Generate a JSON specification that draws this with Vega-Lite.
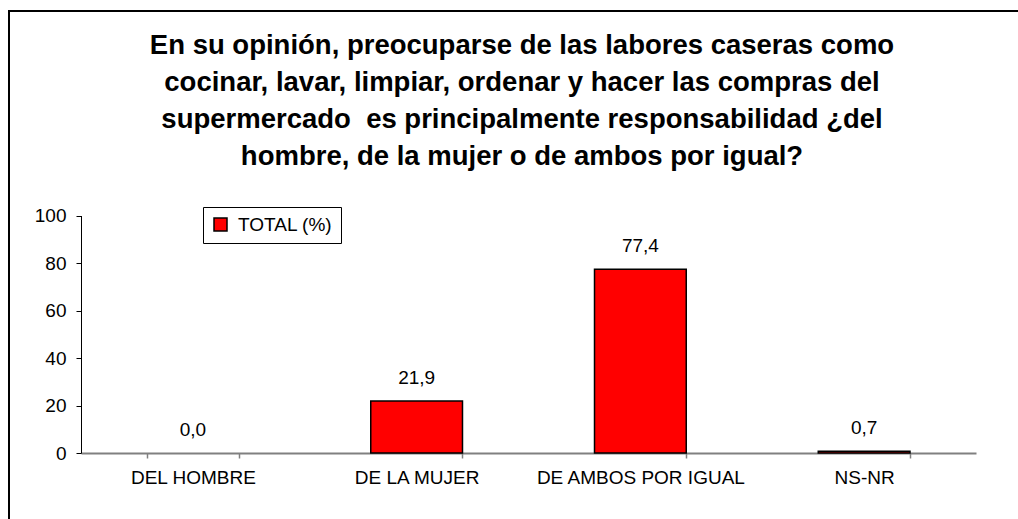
{
  "$schema": "https://vega.github.io/schema/vega-lite/v6.json",
  "autosize": {"type": "none"},
  "padding": {"left": 9, "top": 11, "right": 0, "bottom": 0},
  "width": 1020,
  "height": 520,
  "background": "white",
  "title": {
    "text": ["En su opinión, preocuparse de las labores caseras como", "cocinar, lavar, limpiar, ordenar y hacer las compras del", "supermercado \u00a0es principalmente responsabilidad ¿del", "hombre, de la mujer o de ambos por igual?"],
    "anchor": "middle",
    "frame": "group",
    "baseline": "top",
    "offset": -159,
    "dx": 3,
    "font": "Liberation Sans",
    "fontSize": 27.5,
    "fontWeight": "bold",
    "lineHeight": 37,
    "color": "black"
  },
  "data": {
    "values": [
      {"cat": "DEL HOMBRE", "value": 0.0, "serie": "TOTAL (%)"},
      {"cat": "DE LA MUJER", "value": 21.9, "serie": "TOTAL (%)"},
      {"cat": "DE AMBOS POR IGUAL", "value": 77.4, "serie": "TOTAL (%)"},
      {"cat": "NS-NR", "value": 0.7, "serie": "TOTAL (%)"}
    ]
  },
  "encoding": {
    "x": {
      "field": "cat", "type": "nominal", "sort": null, "title": null,
      "scale": {"range": [72, 967], "paddingInner": 0.59, "paddingOuter": 0.295},
      "axis": {
        "orient": "bottom", "offset": -78, "tickBand": "extent", "labelAngle": 0, "labelLimit": 400,
        "domainColor": "#808080", "domainWidth": 2, "tickColor": "#808080", "tickWidth": 1.5,
        "tickSize": 5, "labelFont": "Liberation Sans", "labelFontSize": 19, "labelColor": "black",
        "labelPadding": 10, "grid": false
      }
    },
    "y": {
      "field": "value", "type": "quantitative", "title": null,
      "scale": {"domain": [0, 100], "range": [442, 204.5], "nice": false},
      "axis": {
        "orient": "left", "offset": -72, "values": [0, 20, 40, 60, 80, 100], "format": "d",
        "domainColor": "black", "tickColor": "black", "tickSize": 5, "grid": false,
        "labelFont": "Liberation Sans", "labelFontSize": 19, "labelColor": "black", "labelPadding": 10
      }
    }
  },
  "layer": [
    {
      "mark": {"type": "bar", "stroke": "black", "strokeWidth": 1.5},
      "encoding": {
        "strokeOpacity": {"condition": {"test": "datum.value > 0", "value": 1}, "value": 0},
        "color": {
          "field": "serie", "type": "nominal",
          "scale": {"range": ["#FF0000"]},
          "legend": {
            "title": null, "orient": "none", "legendX": 194, "legendY": 196,
            "strokeColor": "black", "fillColor": "white", "padding": 8,
            "symbolType": "square", "symbolSize": 169, "symbolStrokeColor": "black",
            "symbolStrokeWidth": 1.5, "symbolOpacity": 1, "labelFont": "Liberation Sans", "labelFontSize": 19,
            "labelColor": "black", "labelOffset": 8
          }
        }
      }
    },
    {
      "mark": {"type": "text", "baseline": "bottom", "dy": -13, "font": "Liberation Sans", "fontSize": 19, "color": "black"},
      "encoding": {
        "text": {"field": "value", "type": "quantitative", "format": ".1f"}
      }
    }
  ],
  "config": {
    "view": {"stroke": "black", "strokeWidth": 2},
    "locale": {"number": {"decimal": ",", "thousands": ".", "grouping": [3], "currency": ["", ""]}}
  }
}
